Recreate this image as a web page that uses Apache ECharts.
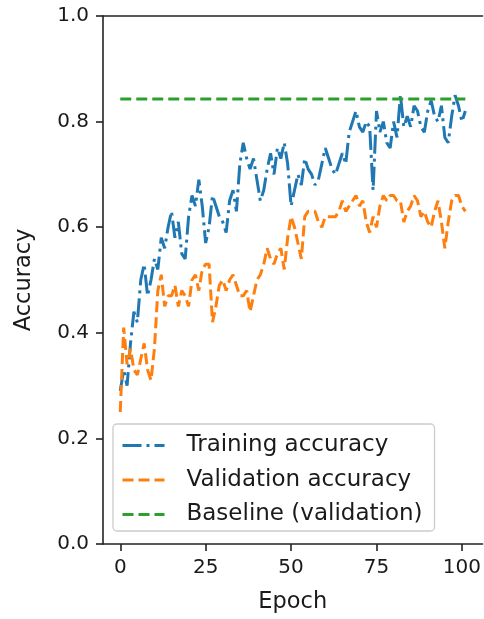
<!DOCTYPE html>
<html>
<head>
<meta charset="utf-8">
<script src="https://cdn.jsdelivr.net/npm/echarts@6/dist/echarts.min.js"></script>
<style>
  html, body { margin: 0; padding: 0; background: #fff; }
  #chart { width: 484px; height: 619px; }
</style>
</head>
<body>
<div id="chart"></div>
<script>
// Per-epoch accuracy of the model, epochs 0..101
const trainAcc = [
  0.29, 0.33, 0.30, 0.38, 0.44, 0.42, 0.50, 0.53, 0.47, 0.50,
  0.54, 0.52, 0.58, 0.56, 0.60, 0.63, 0.58, 0.61, 0.55, 0.54,
  0.62, 0.66, 0.64, 0.69, 0.64, 0.57, 0.60, 0.66, 0.64, 0.62,
  0.61, 0.59, 0.65, 0.67, 0.63, 0.72, 0.76, 0.73, 0.71, 0.73,
  0.69, 0.65, 0.67, 0.71, 0.74, 0.70, 0.75, 0.73, 0.76, 0.72,
  0.64, 0.67, 0.70, 0.68, 0.73, 0.71, 0.70, 0.68, 0.69, 0.72,
  0.75, 0.73, 0.71, 0.70, 0.72, 0.74, 0.72, 0.78, 0.80, 0.82,
  0.79, 0.78, 0.80, 0.79, 0.67, 0.82, 0.78, 0.80, 0.76, 0.75,
  0.80, 0.77, 0.85, 0.79, 0.81, 0.79, 0.83, 0.82, 0.79, 0.78,
  0.82, 0.84, 0.81, 0.80, 0.83, 0.77, 0.76, 0.81, 0.85, 0.83,
  0.80, 0.82
];
const valAcc = [
  0.25, 0.41, 0.34, 0.37, 0.33, 0.32, 0.35, 0.38, 0.33, 0.31,
  0.37, 0.48, 0.51, 0.45, 0.47, 0.47, 0.49, 0.45, 0.48, 0.47,
  0.45, 0.50, 0.51, 0.48, 0.52, 0.53, 0.53, 0.42, 0.45, 0.49,
  0.50, 0.48, 0.50, 0.51, 0.49, 0.47, 0.47, 0.48, 0.44, 0.47,
  0.50, 0.51, 0.53, 0.56, 0.54, 0.53, 0.55, 0.56, 0.52, 0.58,
  0.62, 0.60, 0.57, 0.54, 0.62, 0.63, 0.63, 0.63, 0.61, 0.60,
  0.62, 0.62, 0.62, 0.62, 0.63, 0.65, 0.63, 0.64, 0.65, 0.66,
  0.64, 0.65, 0.61, 0.59, 0.62, 0.60, 0.64, 0.66, 0.65, 0.66,
  0.66, 0.65, 0.65, 0.61, 0.63, 0.64, 0.66, 0.65, 0.62, 0.63,
  0.61, 0.60, 0.63, 0.65, 0.61, 0.56, 0.61, 0.65, 0.66, 0.66,
  0.64, 0.63
];
const baselineAcc = 0.843;
const xTicks = [0, 25, 50, 75, 100];
const seriesNames = ['Training accuracy', 'Validation accuracy', 'Baseline (validation)'];

const epochs = trainAcc.map((_, i) => i);
const lastEpoch = epochs[epochs.length - 1];
const xMin = -0.05 * lastEpoch;
const xMax = lastEpoch * 1.05;

const FONT = 'DejaVu Sans';
const TEXT = '#1a1a1a';
const SPINE = '#222';

const chart = echarts.init(document.getElementById('chart'), null, { renderer: 'canvas' });
chart.setOption({
  animation: false,
  backgroundColor: '#fff',
  grid: { left: 103, right: 1, top: 16, bottom: 74, containLabel: false },
  legend: {
    orient: 'vertical',
    left: 113,
    top: 424,
    padding: [10, 12, 5, 8],
    itemWidth: 42,
    itemHeight: 20,
    itemGap: 11.5,
    // line-only keys: hide the marker that line series add to their icon
    itemStyle: { opacity: 0 },
    lineStyle: { width: 3 },
    backgroundColor: 'rgba(255,255,255,0.8)',
    borderColor: '#cccccc',
    borderWidth: 1.3,
    borderRadius: 4,
    textStyle: { fontFamily: FONT, fontSize: 23, color: TEXT, padding: [0, 0, 0, 17] },
    data: seriesNames
  },
  xAxis: [{
    type: 'value',
    min: xMin,
    max: xMax,
    name: 'Epoch',
    nameLocation: 'middle',
    nameGap: 47,
    nameTextStyle: { fontFamily: FONT, fontSize: 22.5, color: TEXT },
    axisLine: { show: true, onZero: false, lineStyle: { color: SPINE, width: 1.6 } },
    axisTick: { show: true, customValues: xTicks, length: 7, inside: false, lineStyle: { color: SPINE, width: 1.6 } },
    axisLabel: { customValues: xTicks, margin: 14, fontFamily: FONT, fontSize: 20, color: TEXT },
    splitLine: { show: false }
  }, {
    type: 'value',
    position: 'top',
    min: xMin,
    max: xMax,
    axisLine: { show: true, onZero: false, lineStyle: { color: SPINE, width: 1.6 } },
    axisTick: { show: false },
    axisLabel: { show: false },
    splitLine: { show: false }
  }],
  yAxis: {
    type: 'value',
    min: 0,
    max: 1,
    interval: 0.2,
    name: 'Accuracy',
    nameLocation: 'middle',
    nameGap: 67,
    nameRotate: 90,
    nameTextStyle: { fontFamily: FONT, fontSize: 22.5, color: TEXT },
    axisLine: { show: true, onZero: false, lineStyle: { color: SPINE, width: 1.6 } },
    axisTick: { show: true, length: 7, inside: false, lineStyle: { color: SPINE, width: 1.6 } },
    axisLabel: { margin: 14, fontFamily: FONT, fontSize: 20, color: TEXT, formatter: v => v.toFixed(1) },
    splitLine: { show: false }
  },
  series: [{
    name: seriesNames[0],
    type: 'line',
    xAxisIndex: 0,
    symbol: 'none',
    data: epochs.map(i => [i, trainAcc[i]]),
    itemStyle: { color: '#1f77b4' },
    lineStyle: { color: '#1f77b4', width: 3, type: [19, 5, 3, 5] }
  }, {
    name: seriesNames[1],
    type: 'line',
    xAxisIndex: 0,
    symbol: 'none',
    data: epochs.map(i => [i, valAcc[i]]),
    itemStyle: { color: '#ff7f0e' },
    lineStyle: { color: '#ff7f0e', width: 3, type: [11, 5] }
  }, {
    name: seriesNames[2],
    type: 'line',
    xAxisIndex: 0,
    symbol: 'none',
    data: [[0, baselineAcc], [lastEpoch, baselineAcc]],
    itemStyle: { color: '#2ca02c' },
    lineStyle: { color: '#2ca02c', width: 3, type: [11, 5] }
  }]
});
</script>
</body>
</html>
